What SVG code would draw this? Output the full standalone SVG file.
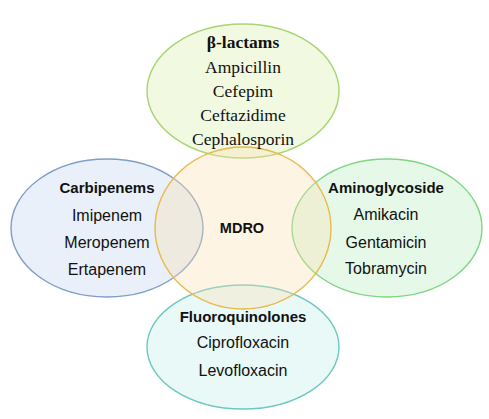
<svg xmlns="http://www.w3.org/2000/svg" width="489" height="419" viewBox="0 0 489 419">
<style>
.e{stroke-width:1.4}
.serif{font-family:"Liberation Serif","Times New Roman",serif;font-size:17.5px;fill:#111;text-anchor:middle}
.sans{font-family:"Liberation Sans",Arial,sans-serif;font-size:16px;fill:#111;text-anchor:middle}
.b{font-weight:bold}
.h{font-size:15px}
</style>
<rect width="489" height="419" fill="#ffffff"/>
<g id="beta-lactams">
<ellipse class="e" cx="243" cy="91" rx="96" ry="67" fill="#d6eea3" fill-opacity="0.34" stroke="#a9d472"/>
</g>
<g id="carbipenems">
<ellipse class="e" cx="107" cy="228" rx="96" ry="69" fill="#c3d6ef" fill-opacity="0.36" stroke="#7f9ec8"/>
</g>
<g id="aminoglycoside">
<ellipse class="e" cx="387" cy="228" rx="95" ry="69" fill="#b9efbe" fill-opacity="0.36" stroke="#7fd682"/>
</g>
<g id="fluoroquinolones">
<ellipse class="e" cx="243" cy="347" rx="96" ry="62" fill="#bdeeeb" fill-opacity="0.34" stroke="#6fc8c0"/>
</g>
<g id="mdro">
<ellipse class="e" cx="243" cy="228" rx="88" ry="81" fill="#fbe0b0" fill-opacity="0.34" stroke="#e8b94c"/>
</g>
<g id="labels">
<text class="serif b" x="243" y="48">β-lactams</text>
<text class="serif" x="243" y="73">Ampicillin</text>
<text class="serif" x="243" y="97">Cefepim</text>
<text class="serif" x="243" y="121">Ceftazidime</text>
<text class="serif" x="243" y="145">Cephalosporin</text>
<text class="sans b h" x="107" y="193">Carbipenems</text>
<text class="sans" x="107" y="221">Imipenem</text>
<text class="sans" x="107" y="248">Meropenem</text>
<text class="sans" x="107" y="275">Ertapenem</text>
<text class="sans b" x="242" y="233" style="font-size:14.5px">MDRO</text>
<text class="sans b h" x="386" y="193">Aminoglycoside</text>
<text class="sans" x="386" y="220">Amikacin</text>
<text class="sans" x="386" y="248">Gentamicin</text>
<text class="sans" x="386" y="274">Tobramycin</text>
<text class="sans b h" x="243" y="322">Fluoroquinolones</text>
<text class="sans" x="243" y="348">Ciprofloxacin</text>
<text class="sans" x="243" y="376">Levofloxacin</text>
</g>
<g id="connectors"></g>
</svg>
